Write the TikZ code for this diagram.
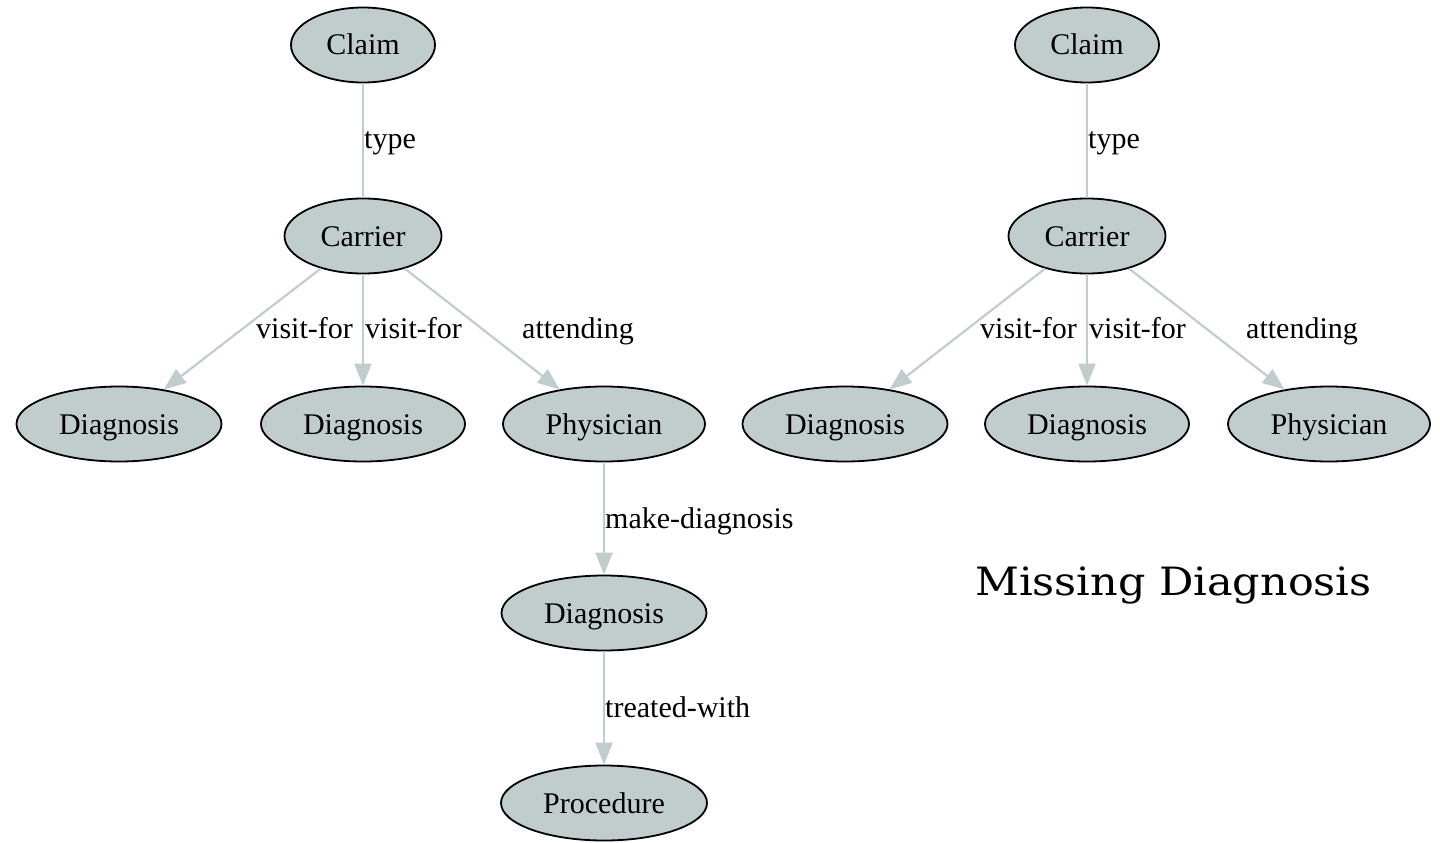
\documentclass[tikz,border=0pt]{standalone}
\usepackage{fontspec}
\setmainfont{Liberation Serif}
\newfontfamily\slabfont{DejaVu Serif}
\usetikzlibrary{shapes.geometric,arrows.meta}
\definecolor{nodegray}{HTML}{C1CDCD}
\definecolor{edgegray}{HTML}{C1CDCD}
\begin{document}
\begin{tikzpicture}[x=1pt,y=-1pt,
    ent/.style={ellipse, draw=black, line width=1.8pt, fill=nodegray,
      minimum height=75pt, inner sep=0pt, text height=20pt, text depth=0pt,
      font=\fontsize{30}{30}\selectfont},
    rel/.style={draw=edgegray, line width=2.2pt},
    relarrow/.style={rel, -{Triangle[length=22pt,width=17pt]}},
    lbl/.style={anchor=base west, inner sep=0pt, font=\fontsize{30}{30}\selectfont}]
      \useasboundingbox (0,0) rectangle (1440,843);
      % left graph
      \node[ent, minimum width=144pt] (lclaim) at (363,45) {Claim};
      \node[ent, minimum width=157pt] (lcarrier) at (363,236) {Carrier};
      \node[ent, minimum width=205pt] (ldiaga) at (119,424) {Diagnosis};
      \node[ent, minimum width=204pt] (ldiagb) at (363,424) {Diagnosis};
      \node[ent, minimum width=202pt] (lphys) at (604,424) {Physician};
      \node[ent, minimum width=205pt] (ldiagc) at (604,613) {Diagnosis};
      \node[ent, minimum width=206pt] (lproc) at (604,803) {Procedure};
      \draw[rel] (lclaim) -- (lcarrier);
      \draw[relarrow] (lcarrier) -- (ldiaga);
      \draw[relarrow] (lcarrier) -- (ldiagb);
      \draw[relarrow] (lcarrier) -- (lphys);
      \draw[relarrow] (lphys) -- (ldiagc);
      \draw[relarrow] (ldiagc) -- (lproc);
      \node[lbl] (ltype) at (364,148) {type};
      \node[lbl] (lvisita) at (256,338) {visit-for};
      \node[lbl] (lvisitb) at (365,338) {visit-for};
      \node[lbl] (lattend) at (522,338) {attending};
      \node[lbl] (lmake) at (605,528) {make-diagnosis};
      \node[lbl] (ltreat) at (605,717) {treated-with};
      % right graph
      \node[ent, minimum width=144pt] (rclaim) at (1087,45) {Claim};
      \node[ent, minimum width=157pt] (rcarrier) at (1087,236) {Carrier};
      \node[ent, minimum width=205pt] (rdiaga) at (845,424) {Diagnosis};
      \node[ent, minimum width=204pt] (rdiagb) at (1087,424) {Diagnosis};
      \node[ent, minimum width=202pt] (rphys) at (1329,424) {Physician};
      \draw[rel] (rclaim) -- (rcarrier);
      \draw[relarrow] (rcarrier) -- (rdiaga);
      \draw[relarrow] (rcarrier) -- (rdiagb);
      \draw[relarrow] (rcarrier) -- (rphys);
      \node[lbl] (rtype) at (1088,148) {type};
      \node[lbl] (rvisita) at (980,338) {visit-for};
      \node[lbl] (rvisitb) at (1089,338) {visit-for};
      \node[lbl] (rattend) at (1246,338) {attending};
      \node[anchor=base west, inner sep=0pt, font=\slabfont\fontsize{39}{39}\selectfont]
        (missing) at (975,595) {\scalebox{1.1}[1]{Missing Diagnosis}};
    \end{tikzpicture}
\end{document}
